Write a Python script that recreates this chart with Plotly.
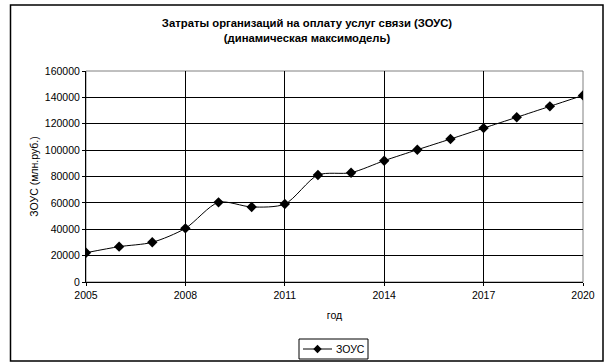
import plotly.graph_objects as go

# Затраты организаций на оплату услуг связи, млн руб.
years = list(range(2005, 2021))
zous = [22200, 26800, 30100, 40700, 60400, 56900, 59100, 81100,
        82900, 92000, 100300, 108400, 116700, 124900, 133200, 141500]
x_ticks = [2005, 2008, 2011, 2014, 2017, 2020]
y_ticks = list(range(0, 160001, 20000))
series_name = "ЗОУС"

FONT = "Liberation Sans, Arial, sans-serif"

fig = go.Figure()
fig.add_trace(go.Scatter(
    x=years, y=zous, name=series_name, mode="lines+markers",
    line=dict(color="black", width=1, shape="spline", smoothing=0.8),
    marker=dict(symbol="diamond", size=8, color="black"),
    showlegend=False,
))

# plot-area frame (grey) and outer chart frame (black)
L, R, T, B = 86, 583, 71, 282
def px_x(p):
    return (p - L) / (R - L)
def px_y(p):
    return (B - p) / (B - T)

fig.add_shape(type="rect", xref="paper", yref="paper", x0=0, x1=1, y0=0, y1=1,
              line=dict(color="#808080", width=1), layer="below")
fig.add_shape(type="rect", xref="paper", yref="paper",
              x0=px_x(10.5), x1=px_x(603), y0=px_y(361), y1=px_y(5),
              line=dict(color="black", width=1.5))

# compact legend box below the axis title
lx0, lx1, ly0, ly1 = 299, 368, 339, 359
ly = (ly0 + ly1) / 2
fig.add_shape(type="rect", xref="paper", yref="paper",
              x0=px_x(lx0), x1=px_x(lx1), y0=px_y(ly1), y1=px_y(ly0),
              line=dict(color="black", width=1), fillcolor="white")
fig.add_shape(type="line", xref="paper", yref="paper",
              x0=px_x(303), x1=px_x(332), y0=px_y(ly), y1=px_y(ly),
              line=dict(color="black", width=1))
cx, h = 317.5, 4.2
diamond = (f"M {px_x(cx - h)},{px_y(ly)} L {px_x(cx)},{px_y(ly - h)} "
           f"L {px_x(cx + h)},{px_y(ly)} L {px_x(cx)},{px_y(ly + h)} Z")
fig.add_shape(type="path", xref="paper", yref="paper", path=diamond,
              fillcolor="black", line=dict(color="black", width=0))
fig.add_annotation(xref="paper", yref="paper", x=px_x(333.5), y=px_y(ly),
                   text=series_name, showarrow=False, xanchor="left",
                   yanchor="middle", font=dict(family=FONT, size=10.5))

fig.update_layout(
    width=608, height=363,
    margin=dict(l=L, r=608 - R, t=T, b=363 - B, autoexpand=False),
    paper_bgcolor="white", plot_bgcolor="white",
    font=dict(family=FONT, size=10.5, color="black"),
    title=dict(
        text="<b>Затраты организаций на оплату услуг связи (ЗОУС)<br>(динамическая максимодель)</b>",
        x=307 / 608, xanchor="center", xref="container",
        y=1 - 27 / 363, yanchor="middle", yref="container",
        font=dict(family=FONT, size=11.3, color="black"),
    ),
    xaxis=dict(
        range=[2005, 2020], tickvals=x_ticks, ticktext=[str(v) for v in x_ticks],
        showgrid=True, gridcolor="black", gridwidth=1,
        showline=True, linecolor="black", linewidth=1,
        ticks="outside", ticklen=3, tickcolor="black",
        tickfont=dict(size=10.5),
        title=dict(text="год", standoff=12, font=dict(size=10.5)),
        zeroline=False,
    ),
    yaxis=dict(
        range=[0, 160000], tickvals=y_ticks, ticktext=[str(v) for v in y_ticks],
        showgrid=True, gridcolor="black", gridwidth=1,
        showline=True, linecolor="black", linewidth=1,
        ticks="outside", ticklen=3, tickcolor="black",
        tickfont=dict(size=10.5),
        title=dict(text="ЗОУС (млн.руб.)", standoff=4, font=dict(size=10.5)),
        zeroline=False,
    ),
    showlegend=False,
)

fig.write_html("out.html")
